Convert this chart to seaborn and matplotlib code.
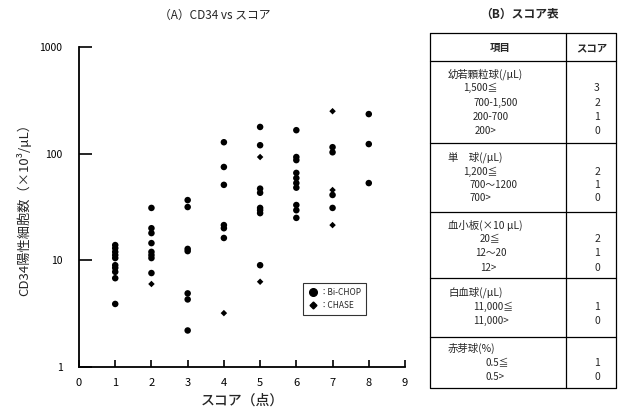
import numpy as np
import pandas as pd
import matplotlib
matplotlib.use("Agg")
import matplotlib.pyplot as plt
import seaborn as sns

sns.set_theme(style="ticks")
FAM = ['Noto Sans CJK JP', 'DejaVu Sans']
plt.rcParams['font.family'] = FAM

# ---- data (A) ----
bichop_score = [1]*10 + [2]*8 + [3]*7 + [4]*6 + [5]*8 + [6]*10 + [7]*4 + [8]*3
bichop_cd34 = [13.9, 13.0, 12.0, 11.2, 10.5, 9.0, 8.5, 7.8, 6.8, 3.9,
               31, 20, 18, 14.5, 12, 11.2, 10.5, 7.6,
               36.7, 31.6, 12.8, 12.2, 4.9, 4.3, 2.2,
               128, 75, 51, 21.4, 20, 16.2,
               178, 120, 47, 43, 31, 29.5, 27.7, 9.0,
               166, 93, 87, 66, 59, 53, 48, 33, 29.5, 25,
               115, 103, 41, 31,
               235, 123, 53]
chase_score = [2, 4, 5, 5, 7, 7, 7]
chase_cd34 = [6.0, 3.2, 93, 6.3, 250, 45.6, 21.4]
regimens = ["Bi-CHOP", "CHASE"]
x_ticks = [0, 1, 2, 3, 4, 5, 6, 7, 8, 9]
y_ticks = [1, 10, 100, 1000]

# ---- data (B) ----
tbl_headers = ["項目", "スコア"]
sec_titles = ["幼若顆粒球(/μL)", "単　球(/μL)", "血小板(×10 μL)", "白血球(/μL)", "赤芽球(%)"]
sec_rows = [["1,500≦", "700-1,500", "200-700", "200>"],
            ["1,200≦", "700〜1200", "700>"],
            ["20≦", "12〜20", "12>"],
            ["11,000≦", "11,000>"],
            ["0.5≦", "0.5>"]]
sec_scores = [["3", "2", "1", "0"],
              ["2", "1", "0"],
              ["2", "1", "0"],
              ["1", "0"],
              ["1", "0"]]

df = pd.DataFrame({
    "score": bichop_score + chase_score,
    "cd34": bichop_cd34 + chase_cd34,
    "regimen": [regimens[0]]*len(bichop_score) + [regimens[1]]*len(chase_score),
})

W, H = 618, 420
fig = plt.figure(figsize=(W/100, H/100), dpi=100)

# overlay in pixel coordinates for the table
ov = fig.add_axes([0, 0, 1, 1])
ov.set_xlim(0, W)
ov.set_ylim(H, 0)
ov.axis("off")

ax = fig.add_axes([79/W, 1-367/H, (405-79)/W, (367-47)/H])
sns.scatterplot(data=df, x="score", y="cd34", style="regimen", size="regimen",
                markers={"Bi-CHOP": "o", "CHASE": "D"},
                sizes={"Bi-CHOP": 22, "CHASE": 11},
                color="black", edgecolor="black", linewidth=0,
                ax=ax, legend=False)
ax.set_yscale("log")
ax.set_xlim(0, 9)
ax.set_ylim(1, 1000)
ax.set_xticks(x_ticks)
ax.set_xticklabels([str(t) for t in x_ticks], fontsize=8)
ax.set_yticks(y_ticks)
ax.set_yticklabels([str(t) for t in y_ticks], fontsize=7.5)
ax.yaxis.set_minor_locator(matplotlib.ticker.NullLocator())
ax.tick_params(axis="x", direction="in", length=5, width=1.2, pad=8, colors="black")
ax.tick_params(axis="y", direction="in", length=9, width=1.2, pad=12, colors="black")
for s in ["top", "right"]:
    ax.spines[s].set_visible(False)
for s in ["left", "bottom"]:
    ax.spines[s].set_linewidth(1.3)
    ax.spines[s].set_color("black")
ax.set_xlabel("スコア（点）", fontsize=10, family=FAM, labelpad=4, weight="medium")
ax.set_ylabel("CD34陽性細胞数（×10³/μL）", fontsize=9.5, family=FAM, labelpad=6)
ax.set_facecolor("none")

from matplotlib.lines import Line2D
handles = [Line2D([], [], marker="o", color="black", linestyle="none", markersize=5.5),
           Line2D([], [], marker="D", color="black", linestyle="none", markersize=3.5)]
leg = ax.legend(handles, ["：Bi-CHOP", "：CHASE"], loc="lower left",
                bbox_to_anchor=(0.675, 0.15), fontsize=6, frameon=True,
                fancybox=False, edgecolor="black", handletextpad=0.1,
                borderpad=0.6, labelspacing=0.5, handlelength=1.2)
leg.get_frame().set_linewidth(0.8)

fig.text(215/W, 1-15/H, "（A）CD34 vs スコア", ha="center", va="center",
         fontsize=8.5, family=FAM)

# ---- table (B) ----
ov.text(520, 14, "（B）スコア表", ha="center", va="center", fontsize=8.5,
        family=FAM, weight="bold")
L, R, T, B, C = 430, 616, 33, 388, 566
lw = 0.9
ov.plot([L, R, R, L, L], [T, T, B, B, T], color="black", lw=lw)
ov.plot([C, C], [T, B], color="black", lw=lw)
ov.plot([L, R], [61, 61], color="black", lw=lw)
ov.text(500, 48, tbl_headers[0], ha="center", va="center", fontsize=7.5, family=FAM, weight="bold")
ov.text(592, 48, tbl_headers[1], ha="center", va="center", fontsize=7.5, family=FAM, weight="bold")

sec_title_y = [74, 157, 225, 292, 348]
sec_lines = [143, 212, 278, 337]
row_x = [[463, 473, 473, 475], [463, 470, 470], [480, 475, 480], [473, 473], [485, 485]]
row_y = [[88, 103, 117, 131], [172, 185, 198], [239, 253, 268], [307, 321], [363, 377]]
for yl in sec_lines:
    ov.plot([L, R], [yl, yl], color="black", lw=lw)
for i, t in enumerate(sec_titles):
    ov.text(448, sec_title_y[i], t, ha="left", va="center", fontsize=7.5, family=FAM)
    for j, r in enumerate(sec_rows[i]):
        ov.text(row_x[i][j], row_y[i][j], r, ha="left", va="center", fontsize=7, family=FAM)
        ov.text(597, row_y[i][j], sec_scores[i][j], ha="center", va="center", fontsize=7.5, family=FAM)

fig.savefig("out.png", dpi=100)
